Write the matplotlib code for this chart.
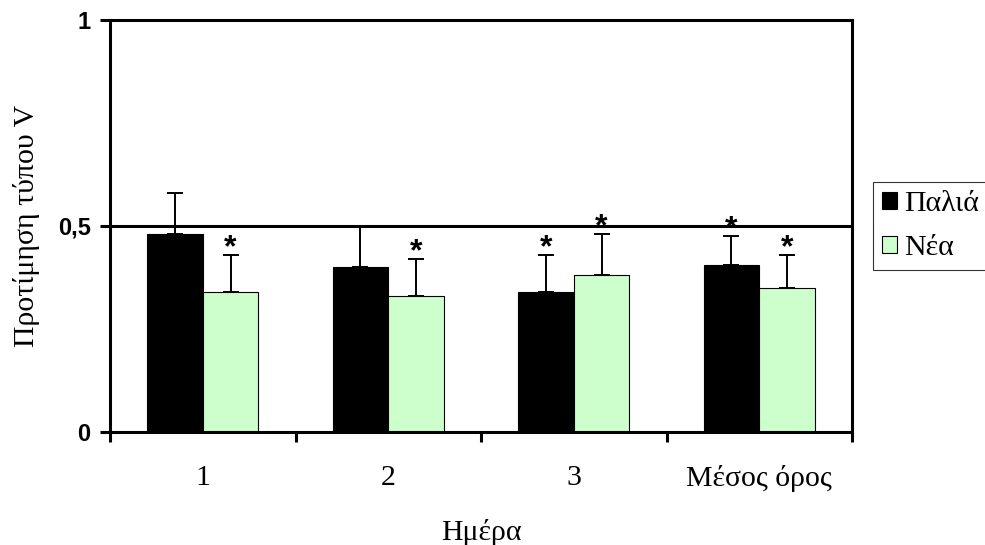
import matplotlib
matplotlib.use("Agg")
import matplotlib.pyplot as plt
import numpy as np

# data
days = ["1", "2", "3", "Μέσος όρος"]
old_vals = [0.48, 0.40, 0.34, 0.405]
old_err = [0.10, 0.10, 0.09, 0.07]
new_vals = [0.34, 0.33, 0.38, 0.35]
new_err = [0.09, 0.09, 0.10, 0.08]
old_star = [False, False, True, True]
new_star = [True, True, True, True]
y_ticks = [0, 0.5, 1]
y_ticklabels = ["0", "0,5", "1"]

serif = "Liberation Serif"
sans = "Liberation Sans"
fs = 21.5

fig = plt.figure(figsize=(9.85, 5.45), dpi=100)
ax = fig.add_axes([110 / 985, 1 - 432 / 545, 742 / 985, 412 / 545])

x = np.arange(len(days))
w = 0.3

ax.bar(x - w / 2, old_vals, w, color="black", edgecolor="black", linewidth=0.8,
       label="Παλιά", zorder=2)
ax.bar(x + w / 2, new_vals, w, color="#ccffcc", edgecolor="black", linewidth=0.8,
       label="Νέα", zorder=2)

ax.errorbar(x - w / 2, old_vals, yerr=[np.zeros(len(x)), old_err], fmt="none",
            ecolor="black", elinewidth=1.4, capsize=6, capthick=1.4, zorder=3)
ax.errorbar(x + w / 2, new_vals, yerr=[np.zeros(len(x)), new_err], fmt="none",
            ecolor="black", elinewidth=1.4, capsize=6, capthick=1.4, zorder=3)

# significance marks
for xs, vals, errs, stars in [(x - w / 2, old_vals, old_err, old_star),
                              (x + w / 2, new_vals, new_err, new_star)]:
    for xi, v, e, s in zip(xs, vals, errs, stars):
        if s:
            ax.annotate("*", (xi, v + e), xytext=(0, 5), textcoords="offset points",
                        ha="center", va="center", fontsize=23, fontweight="bold",
                        family=sans, zorder=4)

ax.axhline(0.5, color="black", linewidth=2.2, zorder=5)

ax.set_xlim(-0.5, 3.5)
ax.set_ylim(0, 1)

for sp in ax.spines.values():
    sp.set_linewidth(2.2)
    sp.set_zorder(6)

ax.set_yticks(y_ticks)
ax.set_yticklabels(y_ticklabels, fontsize=17, fontweight="bold", family=sans)
ax.tick_params(axis="y", length=7, width=2.2, pad=7)

ax.set_xticks(x)
ax.set_xticklabels(days, fontsize=fs, family=serif)
ax.set_xticks(np.arange(-0.5, 4, 1), minor=True)
ax.tick_params(axis="x", which="major", length=0, pad=24)
ax.tick_params(axis="x", which="minor", length=7, width=2.2)

ax.set_ylabel("Προτίμηση τύπου V", fontsize=fs, family=serif)
ax.yaxis.set_label_coords(-0.095, 0.5)
ax.set_xlabel("Ημέρα", fontsize=fs, family=serif)
ax.xaxis.set_label_coords(0.5, -0.21)

leg = fig.legend(loc="upper left", bbox_to_anchor=(873 / 985, 1 - 182 / 545),
                 prop={"family": serif, "size": fs}, frameon=True, fancybox=False,
                 handlelength=0.5, handleheight=0.5, handletextpad=0.25,
                 labelspacing=0.6, borderpad=0.3, borderaxespad=0)
leg.get_frame().set_edgecolor("black")
leg.get_frame().set_linewidth(0.8)

fig.savefig("out.png", dpi=100)
